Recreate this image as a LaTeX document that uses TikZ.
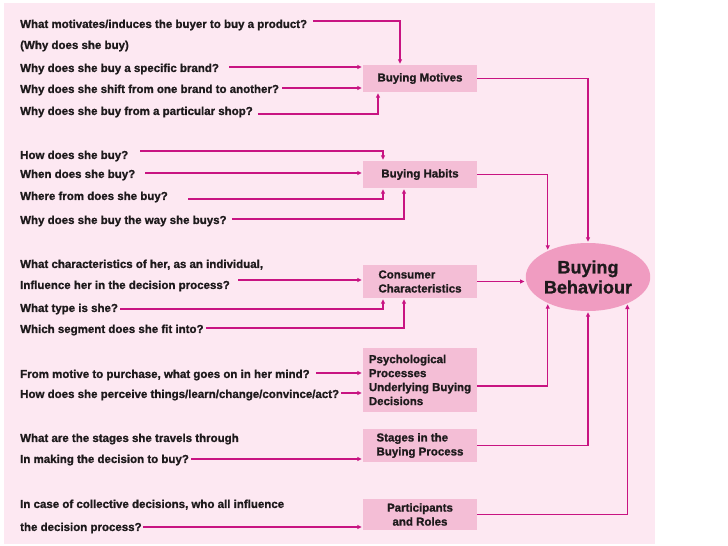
\documentclass[tikz,border=0pt]{standalone}
\usepackage{fontspec}
\setmainfont{Liberation Sans}[BoldFeatures={FakeBold=1.2}]
\usetikzlibrary{arrows.meta,calc,shapes.geometric}
\definecolor{bgpink}{RGB}{253,232,242}
\definecolor{boxpink}{RGB}{244,190,214}
\definecolor{ellpink}{RGB}{240,156,193}
\definecolor{arrmag}{RGB}{200,20,130}
\definecolor{txt}{RGB}{30,26,28}
\begin{document}
\begin{tikzpicture}[x=1pt,y=-1pt,
  q/.style={anchor=west,inner sep=0pt,text=txt,font=\fontsize{11.5}{14}\selectfont\bfseries,text height=10.3pt,text depth=0.4pt},
  box/.style={rectangle,fill=boxpink,minimum width=114pt,inner sep=0pt,align=left,text=txt,font=\fontsize{11.5}{14}\selectfont\bfseries},
  ell/.style={ellipse,fill=ellpink,minimum width=122pt,minimum height=68pt,inner sep=0pt,align=center,text=txt,font=\fontsize{18}{20}\selectfont\bfseries},
  arr/.style={draw=arrmag,line width=1.4pt,-{Triangle[length=4.5pt,width=4pt]},shorten >=1pt}
]
\useasboundingbox (0,0) rectangle (728,546);
\fill[bgpink] (4,3) rectangle (655,544);

% boxes
\node[box,minimum height=27pt] (mot) at (420,78.5) {Buying Motives};
\node[box,minimum height=27pt] (hab) at (420,174.5) {Buying Habits};
\node[box,minimum height=33pt] (con) at (420,281.5) {Consumer\\Characteristics};
\node[box,minimum height=64pt] (psy) at (420,380) {Psychological\\Processes\\Underlying Buying\\Decisions};
\node[box,minimum height=33pt] (stg) at (420,445.5) {Stages in the\\Buying Process};
\node[box,minimum height=31pt,align=center] (par) at (420,514.5) {Participants\\and Roles};
\node[ell] (bb) at (588,277) {Buying\\Behaviour};

% questions
\node[q] (t1) at (20,23) {What motivates/induces the buyer to buy a product?};
\node[q] (t2) at (20,44) {(Why does she buy)};
\node[q] (t3) at (20,67) {Why does she buy a specific brand?};
\node[q] (t4) at (20,88) {Why does she shift from one brand to another?};
\node[q] (t5) at (20,110) {Why does she buy from a particular shop?};

\node[q] (h1) at (20,154) {How does she buy?};
\node[q] (h2) at (20,173) {When does she buy?};
\node[q] (h3) at (20,195) {Where from does she buy?};
\node[q] (h4) at (20,219) {Why does she buy the way she buys?};

\node[q] (c1) at (20,263) {What characteristics of her, as an individual,};
\node[q] (c2) at (20,284) {Influence her in the decision process?};
\node[q] (c3) at (20,307) {What type is she?};
\node[q] (c4) at (20,328) {Which segment does she fit into?};

\node[q] (p1) at (20,373) {From motive to purchase, what goes on in her mind?};
\node[q] (p2) at (20,393) {How does she perceive things/learn/change/convince/act?};

\node[q] (s1) at (20,437) {What are the stages she travels through};
\node[q] (s2) at (20,458) {In making the decision to buy?};

\node[q] (r1) at (20,503) {In case of collective decisions, who all influence};
\node[q] (r2) at (20,526) {the decision process?};

% input connectors
\draw[arr] ($(t1.east)+(6,-2)$) -| ([xshift=-20pt]mot.north);
\draw[arr] ($(t3.east)+(10,0)$) -- (mot.west |- t3.east);
\draw[arr] ($(t4.east)+(3,0)$) -- (mot.west |- t4.east);
\draw[arr] ($(t5.east)+(5,4)$) -| ([xshift=-42pt]mot.south);

\draw[arr] ($(h1.east)+(12,-3)$) -| ([xshift=-37pt]hab.north);
\draw[arr] ($(h2.east)+(10,0)$) -- (hab.west |- h2.east);
\draw[arr] ($(h3.east)+(20,4)$) -| ([xshift=-37pt]hab.south);
\draw[arr] ($(h4.east)+(5,0)$) -| ([xshift=-16pt]hab.south);

\draw[arr] ($(c2.east)+(8,-4)$) -- ($(con.west |- c2.east)+(0,-4)$);
\draw[arr] ($(c3.east)+(2,2)$) -| ([xshift=-37pt]con.south);
\draw[arr] ($(c4.east)+(2,0)$) -| ([xshift=-16pt]con.south);

\draw[arr] ($(p1.east)+(6,0)$) -- (psy.west |- p1.east);
\draw[arr] ($(p2.east)+(2,0)$) -- (psy.west |- p2.east);

\draw[arr] ($(s2.east)+(2,1)$) -- ($(stg.west |- s2.east)+(0,1)$);
\draw[arr] ($(r2.east)+(1,1)$) -- ($(par.west |- r2.east)+(0,1)$);

% output connectors
\draw[arr] (mot.east) -| (bb.north);
\draw[arr] (hab.east) -| (bb.147);
\draw[arr] (con.east) -- (con.east -| bb.west);
\draw[arr] ([yshift=-6pt]psy.east) -| (bb.213);
\draw[arr] (stg.east) -| (bb.south);
\draw[arr] (par.east) -| (bb.326);
\end{tikzpicture}
\end{document}
